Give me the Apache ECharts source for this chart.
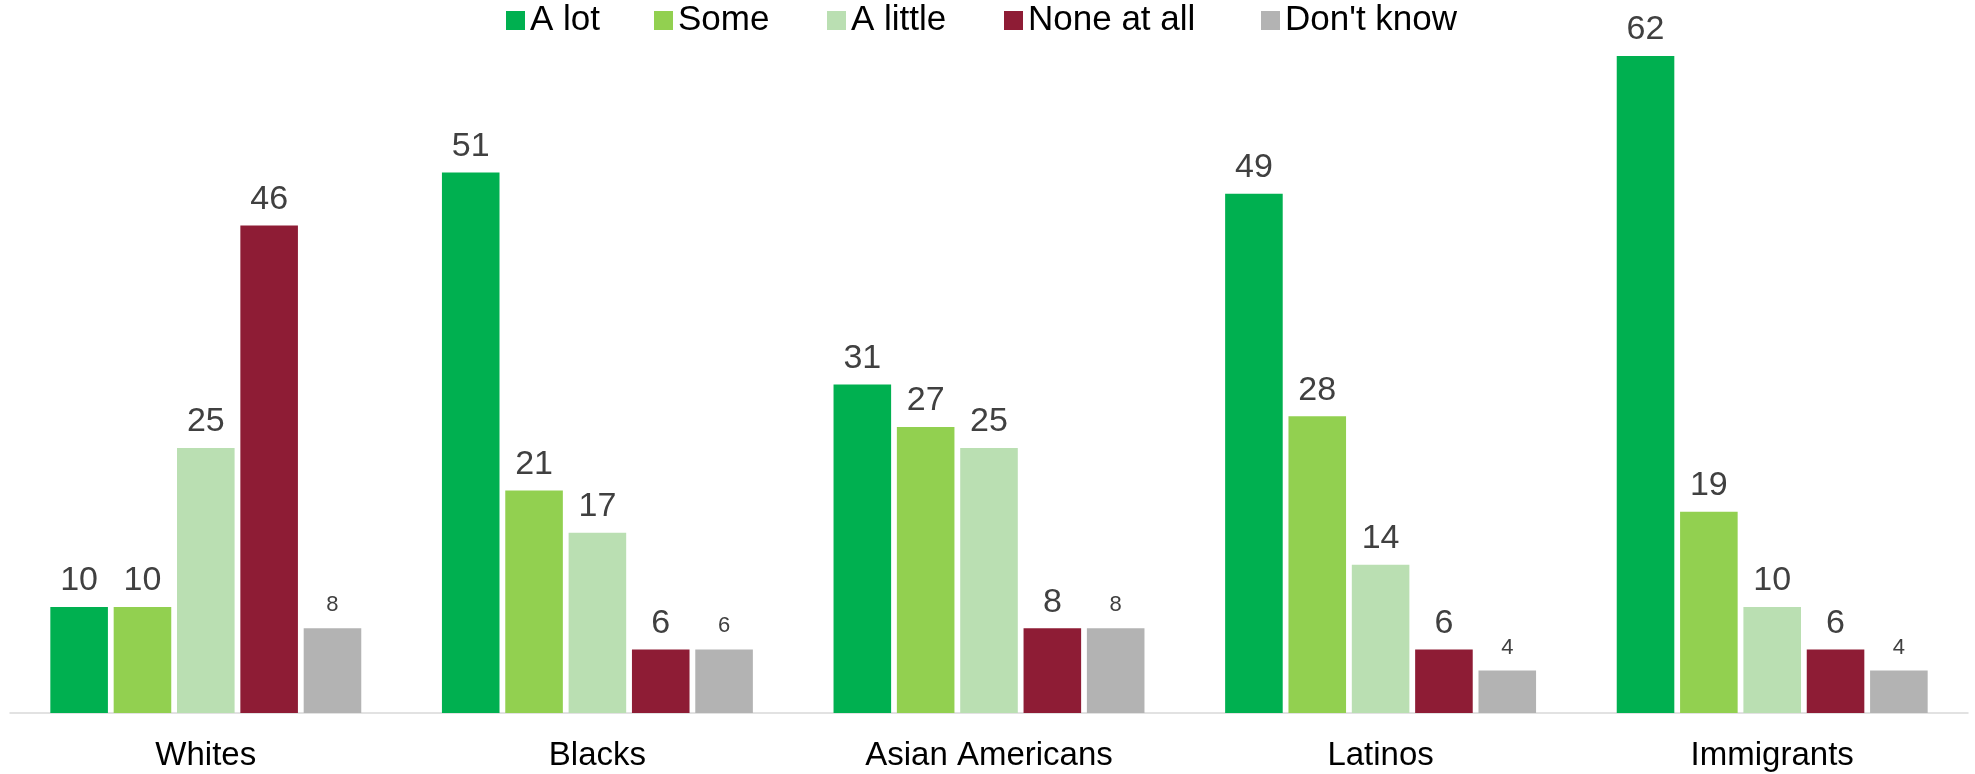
<!DOCTYPE html>
<html>
<head>
<meta charset="utf-8">
<script src="https://cdn.jsdelivr.net/npm/echarts@6/dist/echarts.min.js"></script>
<style>
html,body{margin:0;padding:0;background:#fff;}
#chart{width:1975px;height:774px;}
</style>
</head>
<body>
<div id="chart"></div>
<script>
const categories = ['Whites', 'Blacks', 'Asian Americans', 'Latinos', 'Immigrants'];
const seriesNames = ['A lot', 'Some', 'A little', 'None at all', "Don't know"];
const aLot = [10, 51, 31, 49, 62];
const some = [10, 21, 27, 28, 19];
const aLittle = [25, 17, 25, 14, 10];
const noneAtAll = [46, 6, 8, 6, 6];
const dontKnow = [8, 6, 8, 4, 4];

const values = [aLot, some, aLittle, noneAtAll, dontKnow];
const colors = ['#00B050', '#92D050', '#BADFB2', '#8E1C35', '#B3B3B3'];
const legendWidths = [114, 139, 143, 223, null];
const FONT = '"Liberation Sans", Arial, sans-serif';

const chart = echarts.init(document.getElementById('chart'));
chart.setOption({
  animation: false,
  backgroundColor: '#fff',
  legend: {
    left: 506,
    top: 2,
    padding: 0,
    itemGap: 10,
    itemWidth: 19,
    itemHeight: 19,
    icon: 'rect',
    data: seriesNames.map((n, i) => {
      const ts = { fontSize: 35, color: '#000', fontFamily: FONT, lineHeight: 37 };
      if (legendWidths[i]) ts.width = legendWidths[i];
      return { name: n, textStyle: ts };
    })
  },
  grid: { left: 10, right: 7, top: 56, bottom: 61, containLabel: false },
  xAxis: {
    type: 'category',
    data: categories,
    axisLine: { show: true, lineStyle: { color: '#D9D9D9', width: 1.5 } },
    axisTick: { show: false },
    axisLabel: { fontSize: 33, color: '#000', fontFamily: FONT, margin: 26 }
  },
  yAxis: {
    type: 'value',
    min: 0,
    max: 62,
    show: false,
    splitLine: { show: false }
  },
  series: values.map((arr, i) => ({
    name: seriesNames[i],
    type: 'bar',
    data: arr,
    barGap: '10%',
    barCategoryGap: '20.6%',
    itemStyle: { color: colors[i] },
    label: {
      show: true,
      position: 'top',
      distance: i === 4 ? 12 : 9,
      fontSize: i === 4 ? 22 : 34,
      color: '#404040',
      fontFamily: FONT
    }
  }))
});
</script>
</body>
</html>
